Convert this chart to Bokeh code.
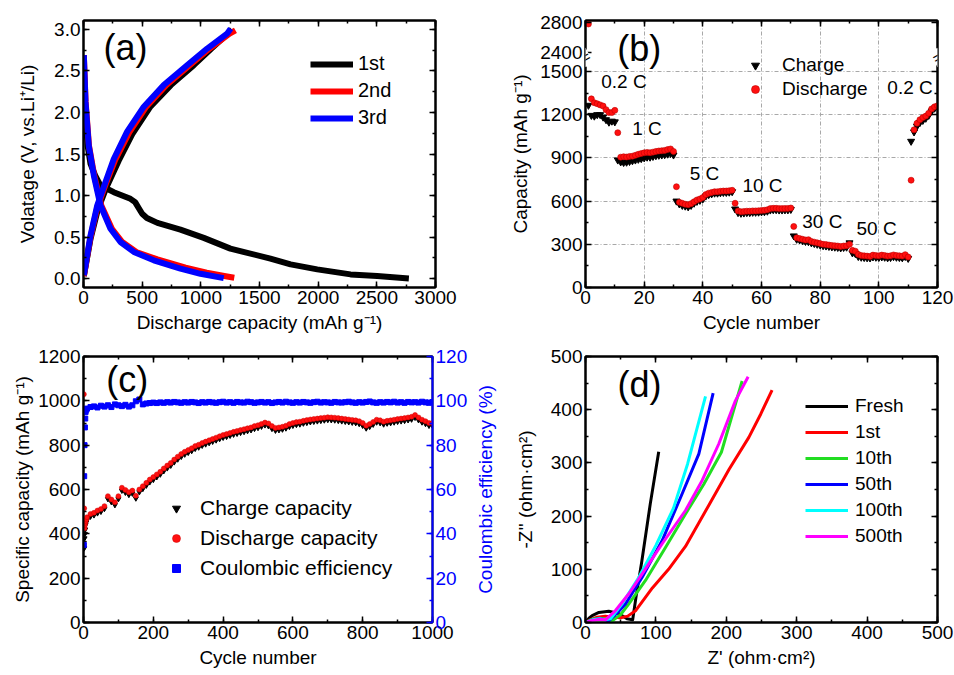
import math
from bokeh.plotting import figure
from bokeh.models import (Range1d, LinearAxis, SingleIntervalTicker, FixedTicker,
                          Legend, LegendItem, Label, NumeralTickFormatter,
                          CustomLabelingPolicy)
from bokeh.layouts import column, row
from bokeh.embed import file_html
from bokeh.resources import INLINE

FONT = "Liberation Sans"
TICK_FS = "19px"
LAB_FS = "19px"
AXW = 2

# ---------------- (a) voltage profiles ----------------
a_1st_dis_x = [0, 15, 35, 60, 100, 145, 258, 400, 440, 470, 500, 540, 630, 826, 1025, 1252, 1593, 1765, 1992, 2276, 2503, 2773]
a_1st_dis_y = [2.68, 2.0, 1.6, 1.38, 1.24, 1.12, 1.04, 0.96, 0.92, 0.85, 0.78, 0.73, 0.67, 0.59, 0.49, 0.36, 0.24, 0.17, 0.11, 0.05, 0.03, 0.0]
a_1st_chg_x = [3, 60, 120, 190, 300, 420, 570, 745, 940, 1090, 1230, 1265]
a_1st_chg_y = [0.03, 0.48, 0.82, 1.08, 1.42, 1.75, 2.07, 2.33, 2.57, 2.77, 2.95, 3.0]
a_2nd_dis_x = [3, 18, 47, 92, 152, 242, 330, 450, 630, 870, 1050, 1200, 1285]
a_2nd_dis_y = [2.69, 2.13, 1.60, 1.24, 0.88, 0.60, 0.44, 0.32, 0.23, 0.13, 0.07, 0.03, 0.01]
a_2nd_chg_x = [3, 60, 118, 190, 270, 390, 535, 705, 905, 1075, 1245, 1295]
a_2nd_chg_y = [0.03, 0.50, 0.86, 1.14, 1.43, 1.76, 2.07, 2.33, 2.57, 2.77, 2.95, 2.99]
a_3rd_dis_x = [3, 17, 45, 88, 145, 230, 315, 429, 599, 826, 997, 1195]
a_3rd_dis_y = [2.69, 2.13, 1.60, 1.24, 0.88, 0.60, 0.44, 0.32, 0.22, 0.12, 0.057, 0.005]
a_3rd_chg_x = [3, 60, 117, 187, 258, 372, 514, 684, 883, 1054, 1224, 1254]
a_3rd_chg_y = [0.04, 0.52, 0.88, 1.16, 1.44, 1.77, 2.07, 2.33, 2.57, 2.77, 2.95, 3.01]

# ---------------- (b) rate capability ----------------
b_cycle = list(range(1, 121))
b_discharge = [2780, 1310, 1283, 1276, 1268, 1260, 1235, 1215, 1215, 1230,
               1075, 905, 908, 906, 910, 912, 918, 925, 930, 935,
               938, 936, 940, 945, 948, 950, 952, 958, 962, 945,
               700, 592, 585, 578, 575, 582, 595, 608, 615, 625,
               645, 655, 660, 665, 665, 668, 670, 670, 672, 675,
               585, 532, 526, 528, 530, 530, 532, 532, 533, 535,
               536, 540, 548, 550, 550, 548, 548, 549, 549, 552,
               424, 345, 340, 335, 330, 332, 320, 315, 310, 305,
               300, 298, 295, 292, 290, 288, 285, 288, 290, 300,
               258, 252, 230, 222, 220, 218, 216, 225, 222, 220,
               225, 222, 218, 220, 226, 222, 220, 218, 228, 212,
               745, 1095, 1140, 1165, 1180, 1190, 1210, 1240, 1255, 1262]
b_charge = [1265, 1195, 1190, 1200, 1200, 1183, 1165, 1148, 1155, 1150,
            885, 872, 868, 870, 875, 880, 885, 890, 895, 900,
            905, 905, 910, 915, 918, 920, 922, 926, 930, 920,
            600, 580, 570, 565, 560, 570, 585, 598, 605, 615,
            635, 645, 650, 655, 655, 658, 660, 660, 662, 665,
            545, 520, 515, 517, 520, 520, 522, 522, 523, 525,
            526, 530, 538, 540, 540, 538, 538, 539, 539, 542,
            358, 335, 330, 325, 320, 318, 310, 305, 300, 295,
            290, 288, 285, 282, 280, 278, 275, 278, 280, 310,
            240, 235, 215, 210, 208, 206, 205, 212, 210, 208,
            212, 210, 206, 208, 214, 210, 208, 206, 215, 202,
            1015, 1080, 1120, 1145, 1160, 1175, 1195, 1225, 1245, 1255]
b_ytick_values = [0, 300, 600, 900, 1200, 1500, 2400, 2800]
b_rate_labels = ["0.2 C", "1 C", "5 C", "10 C", "30 C", "50 C", "0.2 C"]
b_rate_x = [5.35, 15.9, 35.5, 53.5, 73.9, 92.4, 102.9]
b_rate_y = [1433, 1106, 792, 708, 460, 410, 1387]

# ---------------- (c) long cycling ----------------
c_cycle = [1, 2, 3, 4, 5, 6, 8] + list(range(10, 1001, 10))
c_discharge = [1030, 515, 425, 440, 450, 458, 465,
               475, 490, 495, 505, 512, 525, 570, 555, 542, 570,
               608, 598, 588, 595, 572, 600, 615, 630, 645, 656,
               668, 680, 695, 708, 720, 735, 748, 760, 770, 778,
               786, 796, 802, 810, 816, 822, 828, 834, 840, 846,
               850, 855, 860, 864, 868, 872, 876, 880, 886, 890,
               896, 902, 898, 886, 878, 880, 883, 888, 895, 900,
               904, 906, 910, 913, 916, 918, 920, 922, 924, 926,
               925, 924, 922, 920, 918, 916, 914, 912, 908, 900,
               888, 895, 905, 915, 912, 906, 910, 912, 915, 918,
               920, 922, 925, 928, 936, 925, 915, 908, 900, 900]
c_charge = [360, 335, 380, 400, 420, 440, 452,
            462, 478, 484, 493, 500, 513, 557, 543, 530, 557,
            595, 586, 576, 582, 560, 588, 603, 618, 633, 644,
            656, 668, 683, 696, 708, 723, 736, 748, 758, 766,
            774, 784, 790, 798, 804, 810, 816, 822, 828, 834,
            838, 843, 848, 852, 856, 860, 864, 868, 874, 878,
            884, 890, 886, 874, 866, 868, 871, 876, 883, 888,
            892, 894, 898, 901, 904, 906, 908, 910, 912, 914,
            913, 912, 910, 908, 906, 904, 902, 900, 896, 888,
            876, 883, 893, 903, 900, 894, 898, 900, 903, 906,
            908, 910, 913, 916, 924, 913, 903, 896, 888, 888]
c_ce = [35, 66, 80, 88, 92, 95, 96,
        96.5, 97.2, 97.5, 97.0, 97.8, 97.4, 98.0, 97.2, 98.4, 98.0,
        97.6, 98.2, 97.4, 98.0, 99.8, 100.6, 98.4, 98.8, 99.0, 99.2,
        99.0, 99.3, 99.1, 99.4, 99.2, 99.5, 99.3, 99.1, 99.4, 99.2,
        99.5, 99.3, 99.0, 99.4, 99.2, 99.5, 99.3, 99.1, 99.4, 99.6,
        99.2, 99.4, 99.1, 99.5, 99.3, 99.2, 99.6, 99.4, 99.1, 99.3,
        99.5, 99.2, 99.4, 99.0, 99.3, 99.5, 99.2, 99.6, 99.3, 99.1,
        99.4, 99.2, 99.5, 99.3, 99.1, 99.4, 99.6, 99.2, 99.4, 99.3,
        99.1, 99.5, 99.3, 99.2, 99.4, 99.6, 99.3, 99.1, 99.4, 99.2,
        99.5, 99.7, 99.3, 99.1, 99.4, 99.2, 99.5, 99.3, 99.6, 99.2,
        99.4, 99.1, 99.5, 99.3, 99.4, 99.2, 99.6, 99.3, 99.1, 99.4]

# ---------------- (d) impedance ----------------
d_fresh_x = [0, 5, 9.5, 19, 33, 47, 59, 67, 72, 80, 92, 104]
d_fresh_y = [0, 8, 13, 19, 21, 17, 7, 5, 50, 115, 223, 321]
d_1st_x = [0, 8, 16.6, 28, 40, 50, 60, 71, 95, 118, 142, 175, 204, 232, 249, 265]
d_1st_y = [0, 6, 10, 12, 10, 9, 12, 22, 65, 100, 143, 220, 288, 348, 392, 437]
d_10th_x = [0, 10, 20, 30, 38, 50, 61.6, 85.2, 113.6, 142, 168, 193, 222.5]
d_10th_y = [0, 6, 8, 6, 3, 15, 35, 79, 141, 204, 260, 320, 454]
d_50th_x = [0, 10, 20, 28, 33, 45, 56.8, 80.5, 108.9, 137.3, 161, 181.3]
d_50th_y = [0, 5, 7, 5, 3, 18, 35, 85, 154, 242, 317, 431]
d_100th_x = [0, 10, 20, 28, 35.5, 52, 75.8, 100, 125, 145, 170.5]
d_100th_y = [0, 5, 7, 5, 7, 35, 85, 145, 215, 298, 425]
d_500th_x = [0, 10, 20, 28.4, 42.6, 61.6, 80.5, 108.9, 142, 165.7, 189.4, 213, 231]
d_500th_y = [0, 4, 6, 5, 22.5, 54, 91.5, 148, 210.5, 267, 336, 417, 462]


def style_axis(ax, ticker, labels=True, color="black"):
    ax.ticker = ticker
    ax.axis_line_color = color
    ax.axis_line_width = AXW
    ax.major_tick_line_color = color
    ax.minor_tick_line_color = color
    ax.major_tick_line_width = 1.5
    ax.minor_tick_line_width = 1.5
    ax.major_tick_in = 6
    ax.major_tick_out = 0
    ax.minor_tick_in = 3
    ax.minor_tick_out = 0
    ax.major_label_text_font = FONT
    ax.major_label_text_font_size = TICK_FS if labels else "1px"
    ax.major_label_text_color = color
    ax.major_label_standoff = 3 if labels else 0
    if not labels:
        ax.major_label_policy = CustomLabelingPolicy(
            code="return new indices.constructor(indices.size, 0);")
    ax.axis_label_text_font = FONT
    ax.axis_label_text_font_size = LAB_FS
    ax.axis_label_text_font_style = "normal"
    ax.axis_label_text_color = color


def base_fig(width, height, bl, br, bt, bb, xr, yr):
    p = figure(width=width, height=height, x_range=xr, y_range=yr,
               output_backend="svg", toolbar_location=None,
               min_border_left=bl, min_border_right=br,
               min_border_top=bt, min_border_bottom=bb)
    p.outline_line_color = "black"
    p.outline_line_width = AXW
    p.outline_line_alpha = 1.0
    p.xgrid.visible = False
    p.ygrid.visible = False
    return p


def add_mirror(p, ticker, side, color="black", **kw):
    ax = LinearAxis(**kw)
    style_axis(ax, ticker, labels=False, color=color)
    p.add_layout(ax, side)
    return ax


def make_legend(items, loc, gw, gh, spacing, standoff, fs):
    return Legend(items=items, location=loc, orientation="vertical",
                  border_line_color=None, background_fill_alpha=0.0,
                  padding=0, margin=0, spacing=spacing,
                  glyph_width=gw, glyph_height=gh, label_height=gh,
                  label_standoff=standoff, label_text_font=FONT,
                  label_text_font_size=fs, label_text_color="black")


def panel_label(p, x, y, t):
    p.add_layout(Label(x=x, y=y, text=t, text_font=FONT, text_font_size="36px",
                       text_color="black", text_baseline="middle", text_align="left"))


# ================= (a) =================
fa = base_fig(496, 338, 83, 61, 20, 51, Range1d(0, 3000), Range1d(-0.108, 3.108))
ta_x = SingleIntervalTicker(interval=500, num_minor_ticks=2)
ta_y = SingleIntervalTicker(interval=0.5, num_minor_ticks=2)
style_axis(fa.xaxis[0], ta_x)
style_axis(fa.yaxis[0], ta_y)
fa.yaxis[0].formatter = NumeralTickFormatter(format="0.0")
fa.xaxis[0].axis_label = "Discharge capacity (mAh g\u207b\u00b9)"
fa.yaxis[0].axis_label = "Volatage (V, vs.Li\u207a/Li)"
fa.xaxis[0].axis_label_standoff = 5
fa.yaxis[0].axis_label_standoff = 13
add_mirror(fa, ta_x, "above")
add_mirror(fa, ta_y, "right")

lw = 6
r1 = fa.line(a_1st_dis_x, a_1st_dis_y, line_color="black", line_width=lw, line_join="round")
fa.line(a_1st_chg_x, a_1st_chg_y, line_color="black", line_width=lw, line_join="round")
r2 = fa.line(a_2nd_dis_x, a_2nd_dis_y, line_color="#FF0000", line_width=lw, line_join="round")
fa.line(a_2nd_chg_x, a_2nd_chg_y, line_color="#FF0000", line_width=lw, line_join="round")
r3 = fa.line(a_3rd_dis_x, a_3rd_dis_y, line_color="#0000FF", line_width=lw, line_join="round")
fa.line(a_3rd_chg_x, a_3rd_chg_y, line_color="#0000FF", line_width=lw, line_join="round")
fa.add_layout(make_legend([LegendItem(label="1st", renderers=[r1]),
                           LegendItem(label="2nd", renderers=[r2]),
                           LegendItem(label="3rd", renderers=[r3])],
                          (227, 158), 43, 20, 4, 5, "20px"))
panel_label(fa, 170, 2.78, "(a)")


# ================= (b) =================
def brk(v):
    # broken y axis: values above the break are compressed into the top band
    if v < 2000:
        return v
    off = (v - 2400) * 13
    return 1632 + (off // 25 if off % 25 == 0 else off / 25)


fb = base_fig(458, 338, 89, 17, 20, 51, Range1d(0, 120), Range1d(0, 1854))
tb_x = SingleIntervalTicker(interval=20, num_minor_ticks=2)
tb_y = FixedTicker(ticks=[brk(v) for v in b_ytick_values], minor_ticks=[150, 450, 750, 1050, 1350])
style_axis(fb.xaxis[0], tb_x)
style_axis(fb.yaxis[0], tb_y)
fb.yaxis[0].major_label_overrides = {brk(2400): "2400", brk(2800): "2800"}
fb.xaxis[0].axis_label = "Cycle number"
fb.yaxis[0].axis_label = "Capacity (mAh g\u207b\u00b9)"
fb.xaxis[0].axis_label_standoff = 5
fb.yaxis[0].axis_label_standoff = 6
add_mirror(fb, tb_x, "above")
add_mirror(fb, tb_y, "right")
fb.xgrid.visible = True
fb.ygrid.visible = True
fb.xgrid.ticker = FixedTicker(ticks=[20, 40, 60, 80, 100])
fb.ygrid.ticker = FixedTicker(ticks=[300, 600, 900, 1200, 1500])
for g in (fb.xgrid[0], fb.ygrid[0]):
    g.grid_line_color = "#a8a8a8"
    g.grid_line_dash = "4 2 1 2"
    g.grid_line_width = 1

rb1 = fb.scatter(b_cycle, [brk(v) for v in b_charge], marker="inverted_triangle", size=7,
                 fill_color="black", line_color="black")
rb2 = fb.scatter(b_cycle, [brk(v) for v in b_discharge], marker="circle", size=6,
                 fill_color="#FF1010", line_color="#C00000", line_width=0.6)
fb.add_layout(make_legend([LegendItem(label="Charge", renderers=[rb1]),
                           LegendItem(label="Discharge", renderers=[rb2])],
                          (160, 187), 20, 20, 2, 17, "19px"))
for t, x, y in zip(b_rate_labels, b_rate_x, b_rate_y):
    fb.add_layout(Label(x=x, y=y, text=t, text_font=FONT, text_font_size="19px",
                        text_color="black", text_baseline="middle", text_align="left"))
panel_label(fb, 10.8, 1663, "(b)")
for xb in (0, 120):
    fb.add_layout(Label(x=xb, y=1597, text="=", text_font=FONT, text_font_size="16px",
                        text_color="black", text_align="center", text_baseline="middle",
                        angle=0.5, background_fill_color="white"))

# ================= (c) =================
fc = base_fig(470, 337, 83, 35, 18, 53, Range1d(0, 1000), Range1d(0, 1200))
fc.extra_y_ranges = {"ce": Range1d(0, 120)}
tc_x = SingleIntervalTicker(interval=200, num_minor_ticks=2)
tc_y = SingleIntervalTicker(interval=200, num_minor_ticks=2)
tc_r = SingleIntervalTicker(interval=20, num_minor_ticks=2)
style_axis(fc.xaxis[0], tc_x)
style_axis(fc.yaxis[0], tc_y)
fc.xaxis[0].axis_label = "Cycle number"
fc.yaxis[0].axis_label = "Specific capacity (mAh g\u207b\u00b9)"
fc.xaxis[0].axis_label_standoff = 5
fc.yaxis[0].axis_label_standoff = 2
add_mirror(fc, tc_x, "above")
ax_r = LinearAxis(y_range_name="ce")
style_axis(ax_r, tc_r, labels=True, color="#0000FF")
ax_r.major_label_standoff = 3
fc.add_layout(ax_r, "right")

rc1 = fc.scatter(c_cycle, c_charge, marker="inverted_triangle", size=5,
                 fill_color="black", line_color="black")
rc2 = fc.scatter(c_cycle, c_discharge, marker="circle", size=5,
                 fill_color="#FF1010", line_color="#D00000", line_width=0.5)
rc3 = fc.scatter(c_cycle, c_ce, marker="square", size=5, y_range_name="ce",
                 fill_color="#0000FF", line_color="#0000FF")
fc.add_layout(make_legend([LegendItem(label="Charge capacity", renderers=[rc1]),
                           LegendItem(label="Discharge capacity", renderers=[rc2]),
                           LegendItem(label="Coulombic efficiency", renderers=[rc3])],
                          (83, 42), 20, 20, 6, 14, "21px"))
panel_label(fc, 65, 1096, "(c)")

# ================= (d) =================
fd = base_fig(484, 337, 115, 17, 18, 53, Range1d(0, 500), Range1d(0, 500))
td_x = SingleIntervalTicker(interval=100, num_minor_ticks=2)
td_y = SingleIntervalTicker(interval=100, num_minor_ticks=2)
style_axis(fd.xaxis[0], td_x)
style_axis(fd.yaxis[0], td_y)
fd.xaxis[0].axis_label = "Z' (ohm\u00b7cm\u00b2)"
fd.yaxis[0].axis_label = "-Z'' (ohm\u00b7cm\u00b2)"
fd.xaxis[0].axis_label_standoff = 5
fd.yaxis[0].axis_label_standoff = 12
add_mirror(fd, td_x, "above")
add_mirror(fd, td_y, "right")

# title of the Coulombic-efficiency axis of panel (c), which sits in the gap between panels
ce_title = LinearAxis(ticker=FixedTicker(ticks=[]), axis_label="Coulombic efficiency (%)")
ce_title.axis_line_color = None
ce_title.major_tick_line_color = None
ce_title.minor_tick_line_color = None
ce_title.major_tick_in = 0
ce_title.major_tick_out = 0
ce_title.minor_tick_in = 0
ce_title.minor_tick_out = 0
ce_title.major_label_standoff = 0
ce_title.axis_label_standoff = 16
ce_title.axis_label_text_font = FONT
ce_title.axis_label_text_font_size = LAB_FS
ce_title.axis_label_text_font_style = "normal"
ce_title.axis_label_text_color = "#0000FF"
fd.add_layout(ce_title, "left")

dw = 3
series_d = [("Fresh", d_fresh_x, d_fresh_y, "black"),
            ("1st", d_1st_x, d_1st_y, "#FF0000"),
            ("10th", d_10th_x, d_10th_y, "#22DD22"),
            ("50th", d_50th_x, d_50th_y, "#0000FF"),
            ("100th", d_100th_x, d_100th_y, "#00FFFF"),
            ("500th", d_500th_x, d_500th_y, "#FF00FF")]
items_d = []
for name, xs, ys, col in series_d:
    r = fd.line(xs, ys, line_color=col, line_width=dw, line_join="round")
    items_d.append(LegendItem(label=name, renderers=[r]))
fd.add_layout(make_legend(items_d, (220, 75), 43, 20, 4, 7, "19px"))
panel_label(fd, 45.5, 447, "(d)")

layout = column(row(fa, fb), row(fc, fd))
open("out.html", "w").write(file_html(layout, INLINE))
